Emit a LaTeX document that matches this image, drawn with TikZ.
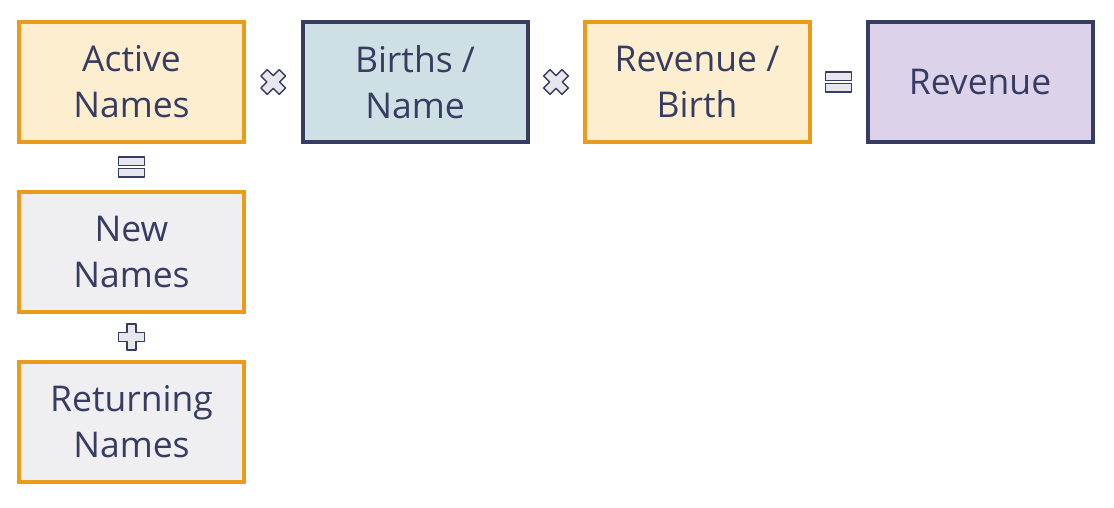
\documentclass[tikz,border=0pt]{standalone}
\usepackage{fontspec}
\setmainfont{Open Sans}
\usetikzlibrary{calc}
\definecolor{navy}{HTML}{373C62}
\definecolor{orng}{HTML}{E99C1C}
\definecolor{fillO}{HTML}{FDEECF}
\definecolor{fillB}{HTML}{CFE0E5}
\definecolor{fillP}{HTML}{DCD3EA}
\definecolor{fillG}{HTML}{EFEFF2}
\definecolor{opfill}{HTML}{E6E6EC}
\tikzset{
  box/.style={draw, line width=4pt, minimum width=225pt, minimum height=120pt,
    align=center, text=navy, font=\fontsize{35.5}{46}\selectfont, inner sep=0pt},
  obox/.style={box, draw=orng},
  nbox/.style={box, draw=navy},
  opline/.style={draw=navy, fill=opfill, line width=1.5pt, line join=round},
}
\begin{document}
\begin{tikzpicture}[x=1pt,y=1pt]
\useasboundingbox (0,0) rectangle (1114,-508);
\node[obox, fill=fillO] (active) at (131.5,-82) {Active\\Names};
\node[nbox, fill=fillB] (births) at (415,-82) {Births /\\Name};
\node[obox, fill=fillO] (revbirth) at (697,-82) {Revenue /\\Birth};
\node[nbox, fill=fillP] (revenue) at (980,-82) {Revenue};
\node[obox, fill=fillG] (new) at (131.5,-252) {New\\Names};
\node[obox, fill=fillG] (ret) at (131.5,-422) {Returning\\Names};
% operators
\coordinate (x1) at ($(active.east)!0.5!(births.west)$);
\coordinate (x2) at ($(births.east)!0.5!(revbirth.west)$);
\coordinate (e1) at ($(revbirth.east)!0.5!(revenue.west)$);
\coordinate (e2) at ($(active.south)!0.5!(new.north)$);
\coordinate (p1) at ($(new.south)!0.5!(ret.north)$);
\foreach \c in {x1,x2}{
  \path[opline, shift={(\c)}, rotate=45]
    (-4.5,-13) -- (4.5,-13) -- (4.5,-4.5) -- (13,-4.5) -- (13,4.5) -- (4.5,4.5)
    -- (4.5,13) -- (-4.5,13) -- (-4.5,4.5) -- (-13,4.5) -- (-13,-4.5) -- (-4.5,-4.5) -- cycle;
}
\path[opline, shift={(p1)}]
    (-4.5,-13) -- (4.5,-13) -- (4.5,-4.5) -- (13,-4.5) -- (13,4.5) -- (4.5,4.5)
    -- (4.5,13) -- (-4.5,13) -- (-4.5,4.5) -- (-13,4.5) -- (-13,-4.5) -- (-4.5,-4.5) -- cycle;
\foreach \c in {e1,e2}{
  \path[opline, shift={(\c)}] (-13,1.5) rectangle (13,10);
  \path[opline, shift={(\c)}] (-13,-1.5) rectangle (13,-10);
}
\end{tikzpicture}
\end{document}
